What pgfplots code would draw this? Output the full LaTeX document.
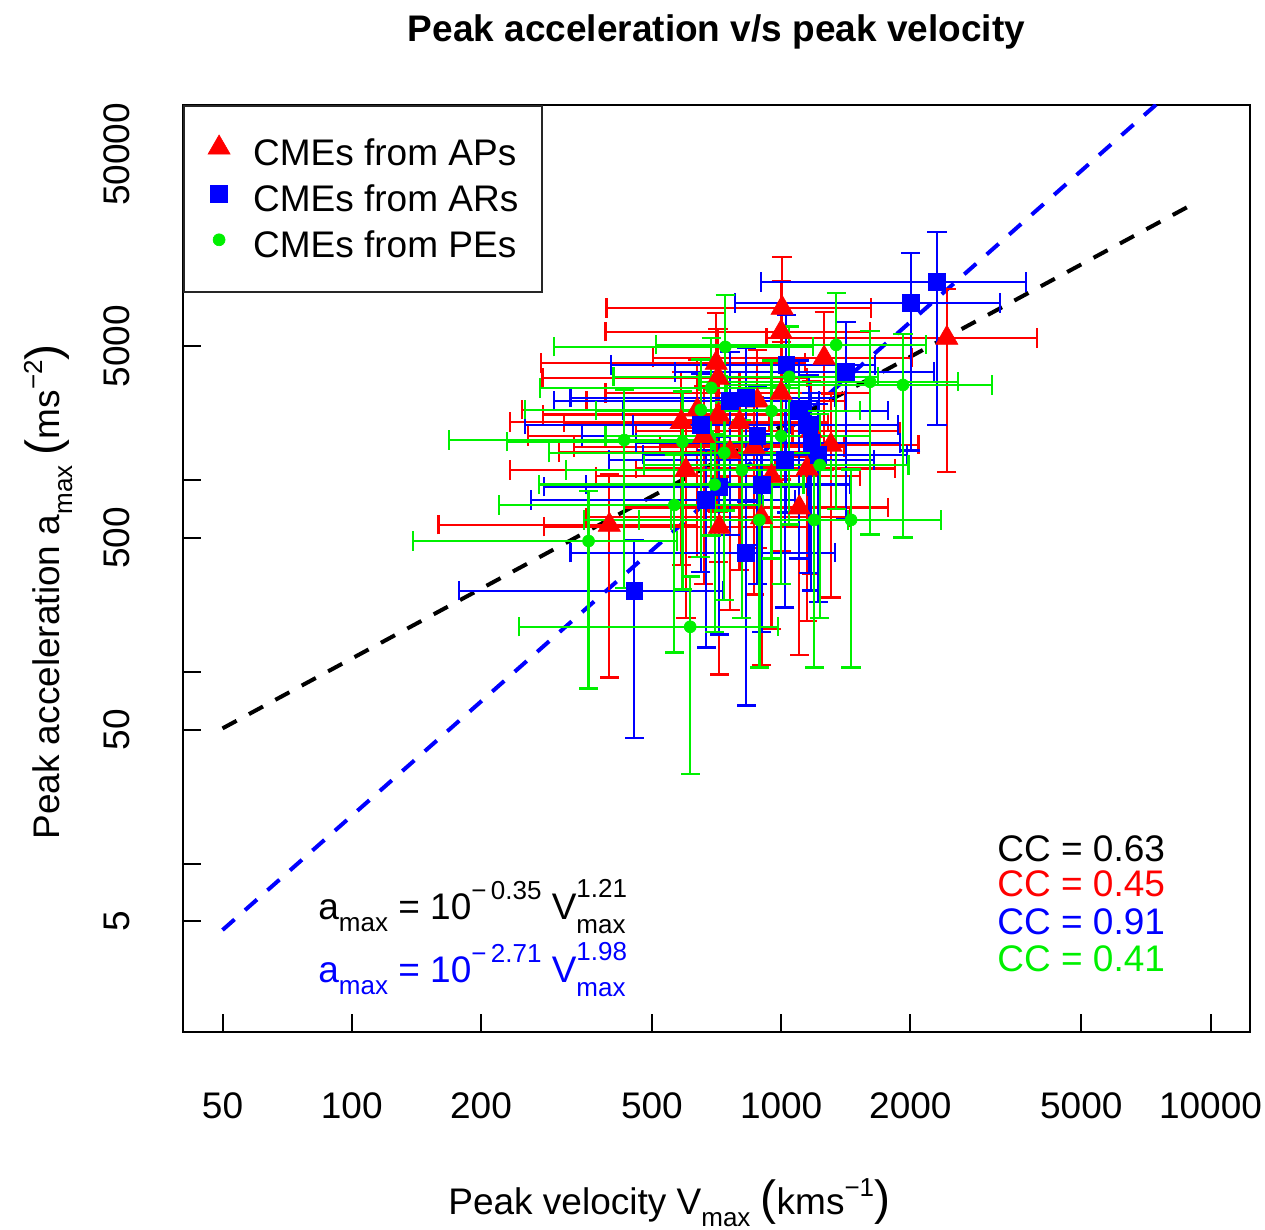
\documentclass[border=0pt]{standalone}
\usepackage{fontspec}
\setmainfont{Liberation Sans}
\usepackage{pgfplots}
\usepackage{pgfplotstable}
\pgfplotsset{compat=1.18}
\definecolor{cred}{RGB}{255,0,0}
\definecolor{cblue}{RGB}{0,0,255}
\definecolor{cgreen}{RGB}{0,240,0}
\newcommand\fs{\fontsize{18.5}{22}\selectfont}
\newcommand\sfs{\fontsize{13}{15}\selectfont}
\newcommand\bigp[1]{{\fontsize{24}{24}\selectfont #1}}

% CMEs from APs: V a relxerr relyerr
\pgfplotstableread{
V a ex ey
1005 7920 0.61 0.85
1000 5940 0.61 0.83
1259 4350 0.60 0.74
2432 5520 0.62 0.80
706 4090 0.61 0.83
1306 1530 0.60 0.84
638 2330 0.61 0.83
585 2010 0.60 0.82
1000 2850 0.61 0.85
865 1490 0.62 0.83
1102 720 0.61 0.83
718 571 0.61 0.83
398 585 0.60 0.84
800 2000 0.61 0.83
600 1130 0.61 0.83
880 2600 0.60 0.83
1175 1800 0.61 0.82
950 1050 0.61 0.84
760 1400 0.60 0.85
713 3420 0.61 0.80
715 2200 0.61 0.83
660 1700 0.61 0.83
1150 1150 0.60 0.84
900 640 0.61 0.83
}\aps

% CMEs from ARs
\pgfplotstableread{
V a ex ey
2306 10800 0.61 0.82
2005 8410 0.61 0.83
1416 3670 0.60 0.83
1028 3990 0.61 0.83
829 2690 0.61 0.83
1161 1940 0.61 0.83
1175 1565 0.61 0.83
669 789 0.61 0.83
718 923 0.61 0.83
829 418 0.61 0.84
455 265 0.61 0.83
1020 1276 0.61 0.83
650 1950 0.61 0.83
900 950 0.61 0.83
760 2600 0.61 0.80
1100 2300 0.61 0.83
880 1700 0.61 0.83
1220 1360 0.61 0.83
}\ars

% CMEs from PEs
\pgfplotstableread{
V a ex ey
741 4960 0.60 0.86
1343 5080 0.62 0.86
1611 3260 0.60 0.84
1922 3140 0.61 0.84
687 3030 0.60 0.83
1044 3460 0.61 0.83
431 1620 0.61 0.83
589 1585 0.61 0.83
564 743 0.61 0.83
356 482 0.61 0.83
614 172 0.60 0.83
1455 621 0.62 0.83
810 1130 0.61 0.83
890 620 0.61 0.83
650 2330 0.61 0.83
1194 621 0.61 0.83
737 1390 0.61 0.83
1000 1700 0.61 0.83
700 950 0.61 0.83
950 2300 0.61 0.83
1230 1200 0.61 0.84
}\pes

\begin{document}
\begin{tikzpicture}[x=1pt,y=1pt]
\useasboundingbox (0,0) rectangle (632.5,615);
\begin{axis}[
  at={(91.5pt,99pt)}, anchor=south west,
  scale only axis, width=533.5pt, height=463.5pt,
  xmode=log, ymode=log,
  xmin=40.45, xmax=12359, ymin=1.3246, ymax=90620,
  xtick={50,100,200,500,1000,2000,5000,10000},
  xticklabels={50,100,200,500,1000,2000,5000,10000},
  ytick={5,10,50,100,500,1000,5000,10000,50000},
  yticklabels={5,,50,,500,,5000,,50000},
  xminorticks=false, yminorticks=false,
  tick align=inside, tick pos=left, major tick length=9pt,
  tick style={black, line width=1pt},
  axis line style={line width=1.4pt},
  tick label style={font=\fs, inner sep=0pt},
  xticklabel style={anchor=north},
  yticklabel style={rotate=90, anchor=south},
  xticklabel shift=30pt, yticklabel shift=26.5pt,
  legend style={at={(0,1)}, anchor=north west, draw=black!85, line width=1pt,
    inner xsep=12pt, inner ysep=12pt, font=\fs, row sep=0pt,
    nodes={inner sep=0pt, text height=18pt, text depth=5pt},
    /tikz/every odd column/.append style={column sep=11.5pt}},
  legend cell align=left,
  legend image post style={yshift=2.6pt},
]
\addplot[cblue, line width=2pt, dash pattern=on 8pt off 7pt, forget plot] coordinates {(50,4.508) (10000,162181)};
\addplot[black, line width=2pt, dash pattern=on 8pt off 7pt, forget plot] coordinates {(50,50.78) (9300,28300)};

\addplot[only marks, mark=triangle*, mark size=6.4pt, color=cred,
  mark options={draw=cred, fill=cred, line width=0.3pt},
  error bars/.cd, x dir=both, x explicit relative, y dir=both, y explicit relative,
  error bar style={line width=1.1pt, cred},
  error mark options={rotate=90, line width=1.1pt, mark size=4.8pt, cred}]
  table[x=V, y=a, x error=ex, y error=ey]{\aps};
\addlegendentry{CMEs from APs}

\addplot[only marks, mark=square*, mark size=4.2pt, color=cblue,
  mark options={draw=cblue, fill=cblue, line width=0.3pt},
  error bars/.cd, x dir=both, x explicit relative, y dir=both, y explicit relative,
  error bar style={line width=1.1pt, cblue},
  error mark options={rotate=90, line width=1.1pt, mark size=4.8pt, cblue}]
  table[x=V, y=a, x error=ex, y error=ey]{\ars};
\addlegendentry{CMEs from ARs}

\addplot[only marks, mark=*, mark size=3pt, color=cgreen,
  mark options={draw=cgreen, fill=cgreen, line width=0.3pt},
  error bars/.cd, x dir=both, x explicit relative, y dir=both, y explicit relative,
  error bar style={line width=1.1pt, cgreen},
  error mark options={rotate=90, line width=1.1pt, mark size=4.8pt, cgreen}]
  table[x=V, y=a, x error=ex, y error=ey]{\pes};
\addlegendentry{CMEs from PEs}
\end{axis}

\node[anchor=base, inner sep=0pt] at (358.25,594) {\fs\bfseries Peak acceleration v/s peak velocity};
\node[anchor=base west, inner sep=0pt] at (224,7.5) {\fs Peak velocity V\raisebox{-6pt}{\sfs max} \bigp{(}kms\raisebox{9pt}{\sfs −1}\bigp{)}};
\node[anchor=base west, inner sep=0pt, rotate=90] at (30,195) {\fs Peak acceleration a\raisebox{-6pt}{\sfs max} \bigp{(}ms\raisebox{9pt}{\sfs −2}\bigp{)}};

\node[anchor=base west, inner sep=0pt] at (159,155) {\fs a\raisebox{-6pt}{\sfs max} = 10\raisebox{10pt}{\sfs −\,0.35} V\rlap{\raisebox{-7pt}{\sfs max}}\raisebox{11pt}{\sfs 1.21}};
\node[anchor=base west, inner sep=0pt, text=cblue] at (159,123.5) {\fs a\raisebox{-6pt}{\sfs max} = 10\raisebox{10pt}{\sfs −\,2.71} V\rlap{\raisebox{-7pt}{\sfs max}}\raisebox{11pt}{\sfs 1.98}};

\node[anchor=base west, inner sep=0pt] at (498.5,184) {\fs CC = 0.63};
\node[anchor=base west, inner sep=0pt, text=cred] at (498.5,166.5) {\fs CC = 0.45};
\node[anchor=base west, inner sep=0pt, text=cblue] at (498.5,147.5) {\fs CC = 0.91};
\node[anchor=base west, inner sep=0pt, text=cgreen] at (498.5,129) {\fs CC = 0.41};
\end{tikzpicture}
\end{document}
